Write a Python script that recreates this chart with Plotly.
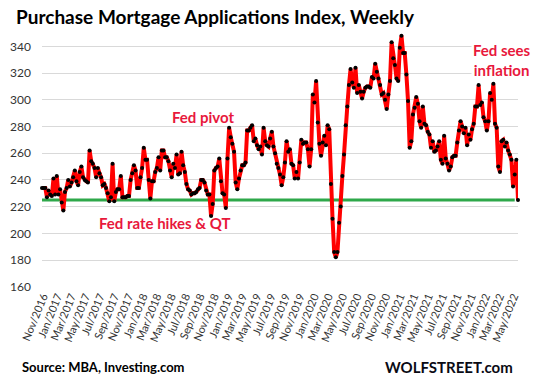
import pandas as pd
import plotly.graph_objects as go

# Weekly MBA purchase index values, Oct 2016 - May 2022
seg_2016_2018 = [234, 234, 234, 227, 232, 229, 228, 241, 229, 243,
                 229, 233, 223, 217, 231, 234, 240, 235, 238, 242,
                 247, 239, 236, 246, 250, 242, 240, 239, 238, 262,
                 254, 252, 249, 242, 249, 245, 242, 236, 237, 234,
                 230, 224, 227, 252, 224, 231, 233, 233, 243, 227,
                 227, 227, 228, 228, 240, 245, 251, 247, 234, 234,
                 242, 249, 264, 255, 255, 240, 226, 239, 239, 246,
                 249, 257, 247]
seg_2018_2019 = [262, 262, 257, 257, 254, 247, 242, 252, 249, 259,
                 244, 245, 261, 251, 246, 237, 233, 232, 229, 230,
                 230, 231, 233, 234, 240, 240, 238, 232, 229, 229,
                 213, 222, 247, 249, 250, 256, 239, 230, 229, 219,
                 256, 279, 272, 267, 261, 238, 233, 241, 247, 251,
                 251, 253, 277, 277, 279, 281, 269, 271, 266, 263,
                 265, 259, 279, 269, 266, 265, 271, 276, 265, 260,
                 252, 249, 244, 236]
seg_2019_2021 = [242, 253, 269, 261, 263, 252, 251, 241, 246, 241,
                 253, 270, 267, 268, 268, 263, 250, 263, 304, 298,
                 314, 283, 267, 258, 268, 273, 266, 281, 278, 237,
                 211, 186, 182, 186, 208, 220, 243, 259, 281, 295,
                 311, 323, 313, 309, 324, 305, 311, 306, 301, 306,
                 309, 310, 310, 309, 317, 316, 327, 321, 316, 311,
                 304, 305, 300, 293, 304, 314, 343, 331, 326, 316,
                 314]
seg_2021_2022 = [339, 348, 335, 335, 319, 299, 264, 269, 289, 294,
                 302, 297, 284, 279, 295, 282, 281, 276, 274, 264,
                 269, 261, 262, 265, 269, 255, 252, 273, 256, 252,
                 247, 250, 257, 258, 258, 268, 277, 284, 280, 275,
                 279, 266, 274, 270, 278, 282, 295, 295, 311, 296,
                 298, 287, 284, 277, 284, 305, 300, 312, 282, 279,
                 250, 246, 269, 270, 265, 268, 262, 259, 255, 235,
                 244, 255, 225]

values = seg_2016_2018 + seg_2018_2019 + seg_2019_2021 + seg_2021_2022
dates = pd.date_range(end="2022-05-20", periods=len(values), freq="W-FRI")

y_ticks = [160, 180, 200, 220, 240, 260, 280, 300, 320, 340]
latest_level = values[-1]

W, H = 543, 385
L, R, T, B = 42, 25, 33, 98
pw, ph = W - L - R, H - T - B


def px(xp):
    return (xp - L) / pw


def py(yp):
    return (H - B - yp) / ph


fig = go.Figure()

fig.add_shape(type="line", xref="x", yref="y",
              x0=dates[0], x1=dates[-3], y0=latest_level, y1=latest_level,
              line=dict(color="#2ea84a", width=3), layer="below")

fig.add_trace(go.Scatter(
    x=dates, y=values, mode="lines+markers",
    line=dict(color="#ff0000", width=4),
    marker=dict(color="black", size=4, symbol="circle"),
    cliponaxis=False, hoverinfo="skip", showlegend=False))

red = "#e8183c"
fig.add_annotation(text="<b>Fed pivot</b>", xref="paper", yref="paper",
                   x=px(203), y=py(117), xanchor="center", yanchor="middle",
                   showarrow=False,
                   font=dict(family="Lato", size=15, color=red))
fig.add_annotation(text="<b>Fed rate hikes &amp; QT</b>", xref="paper", yref="paper",
                   x=px(165), y=py(223), xanchor="center", yanchor="middle",
                   showarrow=False,
                   font=dict(family="Lato", size=15, color=red))
fig.add_annotation(text="<b>Fed sees</b><br><b>inflation</b>", xref="paper", yref="paper",
                   x=px(502), y=py(60), xanchor="center", yanchor="middle",
                   align="center", showarrow=False, bgcolor="white",
                   font=dict(family="Lato", size=15, color=red))

fig.add_annotation(text="<b>Purchase Mortgage Applications Index, Weekly</b>",
                   xref="paper", yref="paper", x=px(14), y=py(17),
                   xanchor="left", yanchor="middle", showarrow=False,
                   font=dict(family="Lato", size=19, color="black"))
fig.add_annotation(text="<b>Source: MBA, Investing.com</b>",
                   xref="paper", yref="paper", x=px(20), y=py(367),
                   xanchor="left", yanchor="middle", showarrow=False,
                   font=dict(family="Lato", size=13, color="black"))
fig.add_annotation(text="<b>WOLFSTREET.com</b>",
                   xref="paper", yref="paper", x=px(515), y=py(367),
                   xanchor="right", yanchor="middle", showarrow=False,
                   font=dict(family="Lato", size=15, color="#0a0a14"))

fig.update_layout(
    width=W, height=H,
    margin=dict(l=L, r=R, t=T, b=B),
    paper_bgcolor="white", plot_bgcolor="white",
    font=dict(family="Lato", color="#333"),
    xaxis=dict(type="date", range=[dates[0], dates[-1]],
               tick0="2016-11-01", dtick="M2", tickformat="%b/%Y",
               tickangle=-68, tickfont=dict(size=11, color="#333"),
               showgrid=False, zeroline=False, showline=False, ticks="",
               automargin=False),
    yaxis=dict(range=[159.8, 350], tickvals=y_ticks,
               tickfont=dict(size=12, color="#333"),
               showgrid=True, gridcolor="#d9d9d9", gridwidth=1,
               zeroline=False, showline=False, ticks="",
               ticklabelstandoff=10, automargin=False),
)

fig.write_html("out.html", config={"displayModeBar": False},
               post_script="document.body.style.margin='0px';document.body.style.overflow='hidden';")
